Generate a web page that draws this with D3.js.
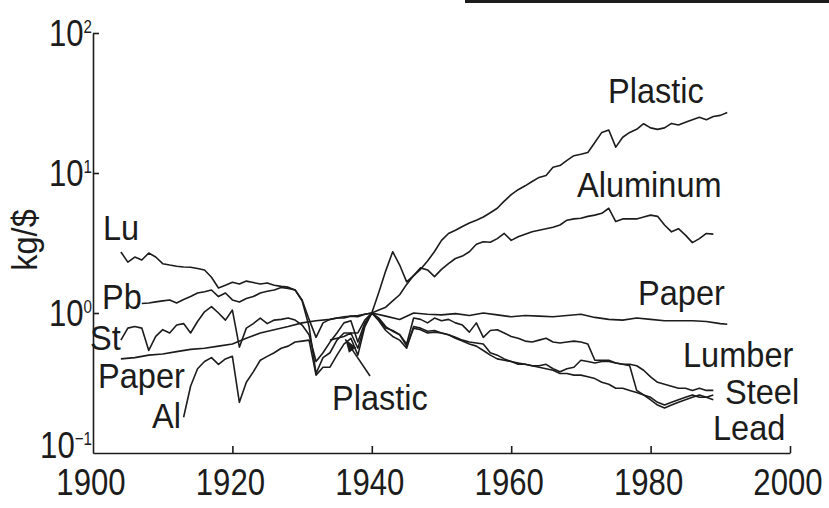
<!DOCTYPE html>
<html>
<head>
<meta charset="utf-8">
<script src="https://cdn.jsdelivr.net/npm/d3@7"></script>
<style>
  body { margin: 0; background: #fff; }
  text { font-family: "Liberation Sans", Arial, Helvetica, sans-serif; fill: #1c1c1c; }
</style>
</head>
<body>
<svg id="chart" width="829" height="508"></svg>
<script>
// kg per constant dollar of GDP, each material normalised to 1940 (log scale)
var lumber = [[1904,2.73],[1905,2.31],[1906,2.51],[1907,2.39],[1908,2.68],[1909,2.51],[1910,2.25],[1911,2.2],[1912,2.16],[1913,2.13],[1914,2.12],[1915,2.08],[1916,2.03],[1917,1.8],[1918,1.51],[1919,1.58],[1920,1.66],[1921,1.61],[1922,1.69],[1923,1.65],[1924,1.61],[1925,1.64],[1926,1.58],[1927,1.55],[1928,1.53],[1929,1.46],[1930,1.22],[1931,0.8],[1932,0.37],[1933,0.48],[1934,0.52],[1935,0.64],[1936,0.72],[1937,0.72],[1938,0.72],[1939,0.89],[1940,1.0],[1941,0.9],[1942,0.78],[1943,0.75],[1944,0.7],[1945,0.6],[1946,0.92],[1947,0.9],[1948,0.85],[1949,0.92],[1950,0.88],[1951,0.9],[1952,0.85],[1953,0.82],[1954,0.73],[1955,0.85],[1956,0.67],[1957,0.75],[1958,0.76],[1959,0.72],[1960,0.68],[1961,0.66],[1962,0.63],[1963,0.62],[1964,0.64],[1965,0.66],[1966,0.62],[1967,0.61],[1968,0.62],[1969,0.63],[1970,0.62],[1971,0.6],[1972,0.46],[1973,0.46],[1974,0.46],[1975,0.44],[1976,0.43],[1977,0.43],[1978,0.42],[1979,0.39],[1980,0.35],[1981,0.32],[1982,0.31],[1983,0.3],[1984,0.29],[1985,0.29],[1986,0.28],[1987,0.29],[1988,0.28],[1989,0.28]];

var lead = [[1907,1.17],[1908,1.18],[1909,1.2],[1910,1.22],[1911,1.24],[1912,1.18],[1913,1.25],[1914,1.31],[1915,1.39],[1916,1.42],[1917,1.46],[1918,1.31],[1919,1.39],[1920,1.24],[1921,1.2],[1922,1.27],[1923,1.31],[1924,1.39],[1925,1.43],[1926,1.46],[1927,1.52],[1928,1.5],[1929,1.46],[1930,1.24],[1931,0.9],[1932,0.67],[1933,0.85],[1934,0.9],[1935,0.92],[1936,0.92],[1937,0.95],[1938,0.94],[1939,0.98],[1940,1.0],[1941,0.88],[1942,0.75],[1943,0.68],[1944,0.64],[1945,0.56],[1946,0.8],[1947,0.78],[1948,0.74],[1949,0.75],[1950,0.72],[1951,0.7],[1952,0.66],[1953,0.63],[1954,0.6],[1955,0.58],[1956,0.54],[1957,0.5],[1958,0.47],[1959,0.46],[1960,0.45],[1961,0.44],[1962,0.43],[1963,0.42],[1964,0.42],[1965,0.43],[1966,0.4],[1967,0.38],[1968,0.4],[1969,0.41],[1970,0.46],[1971,0.45],[1972,0.44],[1973,0.45],[1974,0.45],[1975,0.44],[1976,0.43],[1977,0.42],[1978,0.28],[1979,0.26],[1980,0.25],[1981,0.23],[1982,0.22],[1983,0.23],[1984,0.24],[1985,0.25],[1986,0.26],[1987,0.25],[1988,0.25],[1989,0.24]];

var steel = [[1904,0.64],[1905,0.78],[1906,0.8],[1907,0.78],[1908,0.54],[1909,0.68],[1910,0.76],[1911,0.72],[1912,0.82],[1913,0.84],[1914,0.72],[1915,0.87],[1916,1.02],[1917,1.11],[1918,1.0],[1919,0.89],[1920,1.05],[1921,0.57],[1922,0.78],[1923,0.84],[1924,0.92],[1925,0.84],[1926,0.89],[1927,0.9],[1928,0.92],[1929,0.89],[1930,0.82],[1931,0.7],[1932,0.45],[1933,0.52],[1934,0.62],[1935,0.72],[1936,0.85],[1937,0.88],[1938,0.62],[1939,0.85],[1940,1.0],[1941,0.92],[1942,0.8],[1943,0.74],[1944,0.7],[1945,0.58],[1946,0.78],[1947,0.76],[1948,0.72],[1949,0.73],[1950,0.72],[1951,0.7],[1952,0.67],[1953,0.64],[1954,0.62],[1955,0.61],[1956,0.6],[1957,0.52],[1958,0.5],[1959,0.47],[1960,0.45],[1961,0.43],[1962,0.43],[1963,0.42],[1964,0.41],[1965,0.4],[1966,0.39],[1967,0.37],[1968,0.37],[1969,0.36],[1970,0.36],[1971,0.35],[1972,0.34],[1973,0.32],[1974,0.31],[1975,0.29],[1976,0.29],[1977,0.28],[1978,0.27],[1979,0.26],[1980,0.24],[1981,0.22],[1982,0.21],[1983,0.22],[1984,0.23],[1985,0.24],[1986,0.25],[1987,0.26],[1988,0.25],[1989,0.26]];

var paper = [[1904,0.47],[1906,0.48],[1908,0.5],[1910,0.51],[1912,0.53],[1914,0.55],[1916,0.56],[1918,0.58],[1920,0.6],[1922,0.66],[1924,0.72],[1926,0.76],[1928,0.8],[1930,0.85],[1932,0.88],[1934,0.9],[1936,0.94],[1938,0.96],[1940,1.0],[1942,0.95],[1944,0.9],[1946,1.0],[1948,0.98],[1950,0.97],[1952,0.99],[1954,0.96],[1956,1.0],[1958,0.97],[1960,0.94],[1962,0.96],[1964,0.95],[1966,0.94],[1968,0.96],[1970,0.98],[1972,0.93],[1974,0.9],[1976,0.89],[1978,0.92],[1980,0.9],[1982,0.88],[1984,0.88],[1986,0.88],[1988,0.87],[1990,0.84],[1991,0.83]];

var aluminum = [[1913,0.18],[1914,0.3],[1915,0.4],[1916,0.45],[1917,0.48],[1918,0.43],[1919,0.47],[1920,0.49],[1921,0.23],[1922,0.32],[1923,0.38],[1924,0.46],[1925,0.49],[1926,0.52],[1927,0.56],[1928,0.58],[1929,0.62],[1930,0.63],[1931,0.64],[1932,0.36],[1933,0.41],[1934,0.41],[1935,0.5],[1936,0.6],[1937,0.66],[1938,0.5],[1939,0.8],[1940,1.0],[1941,1.4],[1942,2.0],[1943,2.74],[1944,2.2],[1945,1.67],[1946,1.85],[1947,2.1],[1948,2.03],[1949,1.82],[1950,2.05],[1951,2.25],[1952,2.45],[1953,2.55],[1954,2.74],[1955,3.1],[1956,3.23],[1957,3.2],[1958,3.4],[1959,3.7],[1960,3.3],[1961,3.5],[1962,3.65],[1963,3.8],[1964,3.9],[1965,4.0],[1966,4.1],[1967,4.25],[1968,4.6],[1969,4.7],[1970,4.75],[1971,4.9],[1972,5.0],[1973,5.15],[1974,5.6],[1975,4.5],[1976,4.7],[1977,4.7],[1978,4.7],[1979,4.85],[1980,5.0],[1981,4.9],[1982,4.25],[1983,3.8],[1984,4.0],[1985,3.6],[1986,3.18],[1987,3.4],[1988,3.7],[1989,3.66]];

var plastic = [[1934,0.64],[1935,0.66],[1936,0.68],[1937,0.72],[1938,0.56],[1939,0.82],[1940,1.0],[1941,1.05],[1942,1.1],[1943,1.22],[1944,1.35],[1945,1.6],[1946,1.85],[1947,2.05],[1948,2.35],[1949,2.75],[1950,3.3],[1951,3.7],[1952,3.9],[1953,4.15],[1954,4.4],[1955,4.6],[1956,4.85],[1957,5.2],[1958,5.6],[1959,6.3],[1960,7.0],[1961,7.6],[1962,8.1],[1963,8.7],[1964,9.3],[1965,9.6],[1966,11.0],[1967,11.3],[1968,12.3],[1969,13.3],[1970,13.6],[1971,14.0],[1972,16.5],[1973,19.5],[1974,20.3],[1975,15.3],[1976,18.0],[1977,19.5],[1978,20.5],[1979,22.5],[1980,21.0],[1981,20.5],[1982,21.0],[1983,22.6],[1984,22.0],[1985,23.0],[1986,24.0],[1987,25.0],[1988,24.0],[1989,25.3],[1990,25.8],[1991,27.0]];

var xTicks = [1900, 1920, 1940, 1960, 1980, 2000];
var yTicks = [0.1, 1, 10, 100];
var yExponents = ["\u22121", "0", "1", "2"];
var yTitle = "kg/$";

// series labels: left side abbreviations and right side names
var labels = [
  {text: "Lu", x: 103, y: 240},
  {text: "Pb", x: 102, y: 309},
  {text: "St", x: 90, y: 350},
  {text: "Paper", x: 98, y: 388},
  {text: "Al", x: 152, y: 428},
  {text: "Plastic", x: 332, y: 410},
  {text: "Plastic", x: 608, y: 103},
  {text: "Aluminum", x: 577, y: 197},
  {text: "Paper", x: 638, y: 305},
  {text: "Lumber", x: 683, y: 367},
  {text: "Steel", x: 725, y: 404},
  {text: "Lead", x: 713, y: 440}
];

var svg = d3.select("#chart");
var squeeze = 0.93, fontSize = 35;

var x = d3.scaleLinear().domain([1900, 2000]).range([93, 790]);
var y = d3.scaleLog().domain([0.1, 100]).range([453, 33]);

svg.append("rect").attr("width", 829).attr("height", 508).attr("fill", "#fff");

// scan edge at the top right
svg.append("line")
  .attr("x1", 465).attr("x2", 829).attr("y1", 1.5).attr("y2", 1.5)
  .attr("stroke", "#1c1c1c").attr("stroke-width", 3);

/* Axes with inward ticks */
svg.append("g").attr("transform", "translate(" + x(1900) + ",0)")
  .call(d3.axisLeft(y).tickValues([1, 10, 100]).tickSize(-6).tickSizeOuter(0).tickFormat(""));
svg.append("g").attr("transform", "translate(0," + y(0.1) + ")")
  .call(d3.axisBottom(x).tickValues(xTicks.slice(1)).tickSize(-7).tickSizeOuter(0).tickFormat(""));
svg.selectAll(".domain, .tick line").attr("stroke", "#1c1c1c").attr("stroke-width", 1.6);

/* Tick labels */
svg.selectAll(".xlab").data(xTicks).enter().append("g")
  .attr("transform", function (d) { return "translate(" + (x(d) - 2) + ",495) scale(" + (squeeze - 0.04) + ",1.08)"; })
  .append("text").attr("text-anchor", "middle").attr("font-size", fontSize)
  .text(function (d) { return d; });

var ylab = svg.selectAll(".ylab").data(yTicks).enter().append("g")
  .attr("transform", function (d, i) {
    return "translate(92," + (y(d) + (i === 0 ? 5 : 13)) + ") scale(" + (squeeze - 0.04) + ",1.08)";
  })
  .append("text").attr("text-anchor", "end").attr("font-size", fontSize);
ylab.append("tspan").text("10");
ylab.append("tspan").attr("font-size", 17).attr("dy", -12)
  .text(function (d, i) { return yExponents[i]; });

svg.append("g").attr("transform", "translate(37,240) rotate(-90) scale(" + squeeze + ",1)")
  .append("text").attr("text-anchor", "middle").attr("font-size", fontSize).text(yTitle);

/* Lines */
var line = d3.line()
  .x(function (d) { return x(d[0]); })
  .y(function (d) { return y(d[1]); });

svg.selectAll(".series").data([lumber, lead, steel, paper, aluminum, plastic]).enter()
  .append("path").attr("class", "series")
  .attr("d", line).attr("fill", "none")
  .attr("stroke", "#1c1c1c").attr("stroke-width", 1.6).attr("stroke-linejoin", "round");

/* Series labels */
svg.selectAll(".lab").data(labels).enter().append("g")
  .attr("transform", function (d) { return "translate(" + d.x + "," + d.y + ") scale(" + squeeze + ",1)"; })
  .append("text").attr("font-size", fontSize).text(function (d) { return d.text; });

/* Arrow from the lower Plastic label to the early plastic curve */
var tip = [x(1936.2), y(0.67) + 2], tail = [370, 376];
var ang = Math.atan2(tail[1] - tip[1], tail[0] - tip[0]);
svg.append("line")
  .attr("x1", tail[0]).attr("y1", tail[1]).attr("x2", tip[0]).attr("y2", tip[1])
  .attr("stroke", "#1c1c1c").attr("stroke-width", 1.6);
var head = [tip,
  [tip[0] + 13 * Math.cos(ang) - 4.5 * Math.sin(ang), tip[1] + 13 * Math.sin(ang) + 4.5 * Math.cos(ang)],
  [tip[0] + 13 * Math.cos(ang) + 4.5 * Math.sin(ang), tip[1] + 13 * Math.sin(ang) - 4.5 * Math.cos(ang)]];
svg.append("path").attr("d", "M" + head.join("L") + "Z").attr("fill", "#1c1c1c");
</script>
</body>
</html>
